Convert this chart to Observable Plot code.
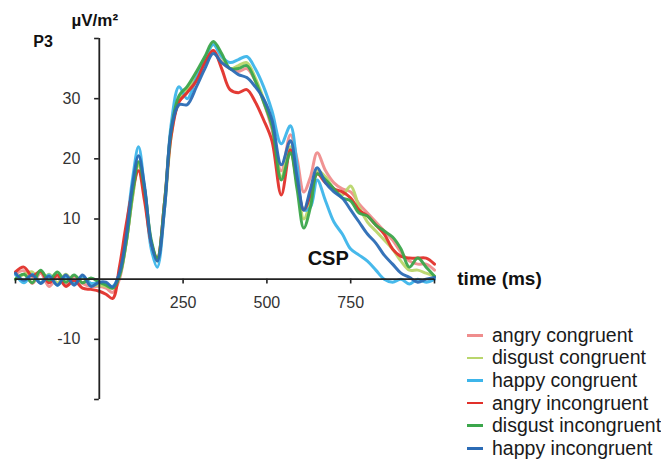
<!DOCTYPE html>
<html><head><meta charset="utf-8">
<script src="https://cdn.jsdelivr.net/npm/d3@7"></script>
<script src="https://cdn.jsdelivr.net/npm/@observablehq/plot@0.6"></script>
<style>
body{margin:0;background:#fff;}
#wrap{position:relative;width:661px;height:461px;font-family:"Liberation Sans",Arial,sans-serif;overflow:hidden;}
#wrap svg{position:absolute;left:0;top:0;}
#legend{position:absolute;left:467px;top:324px;}
.row{display:flex;align-items:center;height:22.6px;font-size:19.5px;color:#1a1a1a;white-space:nowrap;}
.sw{width:16px;height:2.5px;margin-right:9px;}
</style></head><body><div id="wrap"><div id="legend"></div></div>
<script>
const times = [-250,-225,-200,-175,-150,-125,-100,-75,-50,-25,0,20,40,60,80,100,117,135,155,173,195,215,238,262,290,315,340,365,390,415,440,465,490,515,543,570,590,610,630,650,675,700,725,750,775,800,825,850,875,900,925,950,975,1000];

const angryCongruent = [0.8,1.4,-0.7,1,-1.2,0.2,-1,0.5,-0.7,-1.2,-1.2,-1.5,-2.2,0,6,14,19,14,6,3.5,13,25,29.5,31,33.5,36,38,36,35,34.5,35,33,29.5,25,18,24,20,14.5,17,21,18,16,15,14.5,12.5,11,9.5,8,6.5,4.5,3,2.5,2.5,1.5];
const disgustCongruent = [0,0.8,1.2,-0.6,0.8,-0.6,0.8,-0.6,0.2,-1,-1,-1.2,-1.5,0.5,6,14,19,15,6,3,12,24,30,31.5,34,36.5,39,37,35,35.5,36,33.5,30,26,17,22,17,10,13,18,17,15,14,15.5,12,9.5,8,6.5,5,3,1.5,1.5,1,0.5];
const happyCongruent = [0.8,-0.6,0.8,-0.6,0.7,-1,0.3,-0.6,0.5,-0.7,-0.5,-0.8,-1.2,1,8,17,22,15,5,2,12,26,32,30,33.5,36.5,39,37,36,36.5,37,35,32,28,22.5,25.5,19,11.5,12,16.5,13,9.5,7.5,5,4,3,1.5,0,-0.5,0,-0.8,0,-0.5,0];
const angryIncongruent = [1.2,2,0.5,1.3,-0.6,0.7,-1.2,-0.2,-1.5,-1.7,-2,-2.5,-3.2,2,9,15,18,13,6,3.5,13,24,29.5,31,33,36,38,35,31.5,31,31.5,29.5,26.5,23,14,21.5,16,11.5,14,17.5,16,15,14.5,13.5,11.5,10.5,9,7.5,5,3.8,3.5,3.5,3.5,2.5];
const disgustIncongruent = [0,0.8,-0.6,1.5,-0.2,1.2,-0.5,0.7,-0.6,0.2,-0.5,-1,-1.5,0.5,6,14.5,19.5,15,6.5,3.5,13,25,30.5,32,34.5,37,39.5,37.5,35,35,35.5,33,29.5,25.5,16.5,21,15,8.5,12,17.5,16.5,15,13.5,13,11,10.5,9,8,7,5,2,3.5,2,0.5];
const happyIncongruent = [1,-0.2,0.7,-0.7,0.5,-1,0.7,-1,0.7,-1.2,-0.5,-0.5,-1.3,1,7,16,20.5,15.5,6,3,12,25,29,29,32,35,37.5,36,35,34,33.5,32,30,26.5,19,23,17,11.5,15,18.5,16,14.5,13.5,11.5,9.5,7.5,6,4,2.5,1,0.3,-0.5,0,0.3];

const seriesNames = ["angry congruent","disgust congruent","happy congruent","angry incongruent","disgust incongruent","happy incongruent"];
const seriesColors = ["#ef8d8d","#b9d66c","#3db5ea","#e1302a","#3ba64b","#2b6bb5"];
const seriesValues = [angryCongruent,disgustCongruent,happyCongruent,angryIncongruent,disgustIncongruent,happyIncongruent];

const yTicks = [40,30,20,10,0,-10,-20];
const yTickLabels = [30,20,10,-10];
const xTicks = [-250,250,500,750,1000];
const xTickLabels = [250,500,750];

const data = [];
seriesValues.forEach((vals,i)=>vals.forEach((v,j)=>data.push({t:times[j], v, s:seriesNames[i]})));

const font = '"Liberation Sans", Arial, sans-serif';
const plot = Plot.plot({
  width:661, height:461,
  marginLeft:15, marginRight:227, marginTop:38, marginBottom:62,
  x:{domain:[-250,1000], axis:null},
  y:{domain:[-20,40], axis:null},
  color:{domain:seriesNames, range:seriesColors},
  style:{fontFamily:font, background:"transparent", overflow:"visible"},
  marks:[
    Plot.line(data, {x:"t", y:"v", z:"s", stroke:"s", curve:"catmull-rom", strokeWidth:3, strokeOpacity:0.95}),
    Plot.ruleY([0], {x1:-250, x2:1000, stroke:"#222", strokeWidth:1.6}),
    Plot.ruleX([0], {y1:-20, y2:40, stroke:"#222", strokeWidth:1.8}),
    Plot.ruleY(yTicks, {x1:-14, x2:0, stroke:"#222", strokeWidth:1.6}),
    Plot.ruleX(xTicks, {y1:0, y2:-0.8, stroke:"#222", strokeWidth:1.6}),
    Plot.text(yTickLabels, {x:0, y:d=>d, text:d=>String(d), dx:-19, textAnchor:"end", fontSize:16, fill:"#333"}),
    Plot.text(xTickLabels, {x:d=>d, y:0, text:d=>String(d), dy:24, fontSize:16, fill:"#333"}),
    Plot.text(["µV/m²"], {x:-83, y:43, text:d=>d, textAnchor:"start", fontSize:17, fontWeight:"bold", fill:"#111"}),
    Plot.text(["P3"], {x:-197, y:39.5, text:d=>d, textAnchor:"start", fontSize:16, fontWeight:"bold", fill:"#111"}),
    Plot.text(["time (ms)"], {x:1068, y:0, text:d=>d, textAnchor:"start", fontSize:19, fontWeight:"bold", fill:"#111"}),
    Plot.text(["CSP"], {x:683, y:3.4, text:d=>d, fontSize:20, fontWeight:"bold", fill:"#111"})
  ]
});
const wrap = document.getElementById("wrap");
wrap.insertBefore(plot, wrap.firstChild);

const legend = document.getElementById("legend");
seriesNames.forEach((n,i)=>{
  const row = document.createElement("div"); row.className="row";
  const sw = document.createElement("span"); sw.className="sw"; sw.style.background=seriesColors[i];
  const tx = document.createElement("span"); tx.textContent=n;
  row.appendChild(sw); row.appendChild(tx); legend.appendChild(row);
});
</script></body></html>
